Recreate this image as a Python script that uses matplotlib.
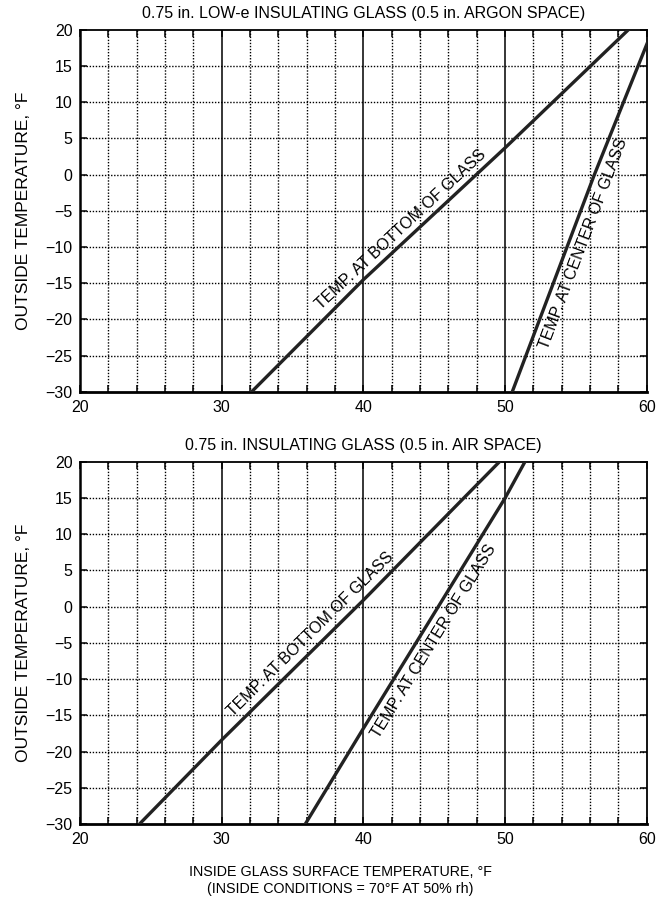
import numpy as np
import matplotlib
matplotlib.use("Agg")
import matplotlib.pyplot as plt

plt.rcParams['font.family'] = ['Liberation Sans', 'DejaVu Sans']

# values (inside glass temp, outside temp)
argon_bottom_x = [32.1, 40.0, 50.0, 58.7]
argon_bottom_y = [-30, -14.5, 3.7, 20]
argon_center_x = [50.5, 56.3, 60.0]
argon_center_y = [-30, 0, 18]

air_bottom_x = [24.2, 30.0, 40.0, 49.6]
air_bottom_y = [-30, -18.4, 0.9, 20]
air_center_x = [35.9, 40.0, 50.0, 51.4]
air_center_y = [-30, -16.8, 15.0, 20]

titles = ["0.75 in. LOW-e INSULATING GLASS (0.5 in. ARGON SPACE)",
          "0.75 in. INSULATING GLASS (0.5 in. AIR SPACE)"]
x_ticks = [20, 30, 40, 50, 60]
y_ticks = [-30, -25, -20, -15, -10, -5, 0, 5, 10, 15, 20]
line_label_bottom = "TEMP. AT BOTTOM OF GLASS"
line_label_center = "TEMP. AT CENTER OF GLASS"


def label_on_line(ax, xs, ys, x0, text, off_px):
    # rotated text along the line, pushed off it by off_px pixels
    y0 = np.interp(x0, xs, ys)
    y1 = np.interp(x0 + 0.5, xs, ys)
    p0 = ax.transData.transform((x0, y0))
    p1 = ax.transData.transform((x0 + 0.5, y1))
    d = p1 - p0
    ang = np.degrees(np.arctan2(d[1], d[0]))
    u = d / np.hypot(*d)
    n = np.array([-u[1], u[0]])
    xd, yd = ax.transData.inverted().transform(p0 + n * off_px)
    ax.text(xd, yd, text, rotation=ang, rotation_mode='anchor',
            ha='center', va='center', fontsize=11.5, zorder=4)


fig = plt.figure(figsize=(6.56, 9.01), dpi=100)
ax1 = fig.add_axes([0.122, 0.565, 0.864, 0.402])
ax2 = fig.add_axes([0.122, 0.0855, 0.864, 0.402])

for ax, title in zip([ax1, ax2], titles):
    ax.set_xlim(20, 60)
    ax.set_ylim(-30, 20)
    ax.set_xticks(x_ticks)
    ax.set_xticks(np.arange(22, 60, 2), minor=True)
    ax.set_yticks(y_ticks)
    ax.set_yticklabels([str(v).replace('-', '\u2212') for v in y_ticks])
    for xv in np.arange(22, 60, 2):
        if xv in (30, 40, 50):
            ax.axvline(xv, color='black', lw=1.1, zorder=1)
        else:
            ax.axvline(xv, color='black', lw=1.0, ls=(0, (1, 1.2)), zorder=1)
    for yv in y_ticks[1:-1]:
        ax.axhline(yv, color='black', lw=1.0, ls=(0, (1, 1.2)), zorder=1)
    ax.tick_params(axis='both', which='both', direction='in', top=True, right=True,
                   length=5, width=1.1, labelsize=11.5, pad=5.5)
    ax.tick_params(axis='x', which='major', pad=6)
    for s in ax.spines.values():
        s.set_linewidth(1.3)
    ax.spines['bottom'].set_linewidth(2)
    ax.spines['left'].set_linewidth(1.8)
    ax.set_title(title, fontsize=11.5, pad=8.5)
    ax.set_ylabel("OUTSIDE TEMPERATURE, \u00b0F", fontsize=12.5, labelpad=10)

ax1.plot(argon_bottom_x, argon_bottom_y, color='#222222', lw=2.4, zorder=3)
ax1.plot(argon_center_x, argon_center_y, color='#222222', lw=2.4, zorder=3)
ax2.plot(air_bottom_x, air_bottom_y, color='#222222', lw=2.4, zorder=3)
ax2.plot(air_center_x, air_center_y, color='#222222', lw=2.4, zorder=3)

label_on_line(ax1, argon_bottom_x, argon_bottom_y, 43.2, line_label_bottom, 11.5)
label_on_line(ax1, argon_center_x, argon_center_y, 54.6, line_label_center, -14.5)
label_on_line(ax2, air_bottom_x, air_bottom_y, 36.9, line_label_bottom, 13)
label_on_line(ax2, air_center_x, air_center_y, 44.1, line_label_center, -14)

fig.text(340 / 656, 1 - 872 / 901, "INSIDE GLASS SURFACE TEMPERATURE, \u00b0F",
         ha='center', va='center', fontsize=10.3)
fig.text(340 / 656, 1 - 889 / 901, "(INSIDE CONDITIONS = 70\u00b0F AT 50% rh)",
         ha='center', va='center', fontsize=10.3)

fig.savefig("out.png", dpi=100)
